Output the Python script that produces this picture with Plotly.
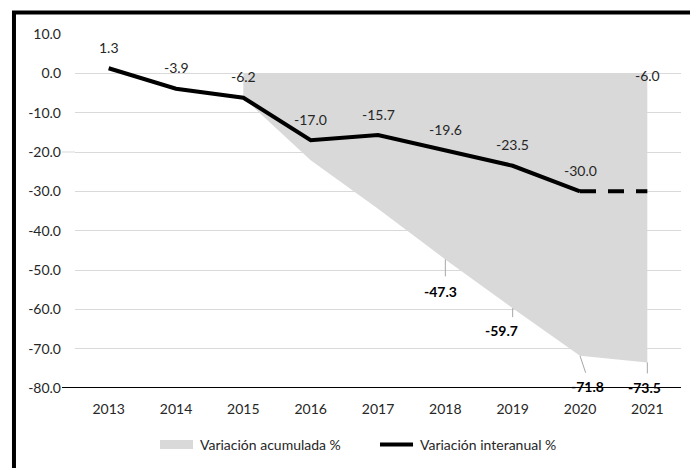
import plotly.graph_objects as go

# Years on the horizontal axis
years = ["2013", "2014", "2015", "2016", "2017", "2018", "2019", "2020", "2021"]

# Year-on-year change (%) for each year
interanual = [1.3, -3.9, -6.2, -17.0, -15.7, -19.6, -23.5, -30.0, -6.0]

# Solid line covers 2013-2020; the 2020-2021 stretch is drawn dashed
solid_years = years[:8]
dashed_years = ["2020", "2021"]
dashed_values = [-30.0, -30.0]

# Cumulative change (%) since 2014, drawn as a shaded area from 0
acum_years = ["2015", "2016", "2017", "2018", "2019", "2020", "2021"]
acumulada = [-6.2, -22.1, -34.4, -47.3, -59.7, -71.8, -73.5]
acum_base = [0, 0, 0, 0, 0, 0, 0]

# Which cumulative values carry a bold label, and where the label sits (px)
acum_labeled = ["2018", "2019", "2020", "2021"]
acum_label_shift = {"2018": (-5, -32), "2019": (-11, -22), "2020": (7, -31), "2021": (-3, -25)}
acum_leader = {"2018": (0, 18), "2019": (0, 10), "2020": (6, 18), "2021": (0, 12)}

# Y axis ticks
y_ticks = [10, 0, -10, -20, -30, -40, -50, -60, -70, -80]
y_tick_labels = ["10.0", "0.0", "-10.0", "-20.0", "-30.0", "-40.0", "-50.0", "-60.0", "-70.0", "-80.0"]

FONT = "Lato"
GRID = "#d9d9d9"
AREA = "#d9d9d9"
TEXT = "#262626"


def cat_pos(year):
    """Position of a year on the category axis."""
    return years.index(year)


fig = go.Figure()

fig.add_trace(go.Scatter(
    x=acum_years, y=acum_base, mode="lines",
    line=dict(width=0, color=AREA), showlegend=False, hoverinfo="skip",
))
fig.add_trace(go.Scatter(
    x=acum_years, y=acumulada, mode="lines", fill="tonexty",
    fillcolor=AREA, line=dict(width=0, color=AREA),
    name="Variación acumulada %", showlegend=False,
))
fig.add_trace(go.Scatter(
    x=solid_years, y=interanual[:8], mode="lines",
    line=dict(color="black", width=4),
    name="Variación interanual %", showlegend=False,
))
fig.add_trace(go.Scatter(
    x=dashed_years, y=dashed_values, mode="lines",
    line=dict(color="black", width=4, dash="16px,12px"),
    showlegend=False, hoverinfo="skip",
))

annotations = []
# Year-on-year labels above each point
for yr, v in zip(years, interanual):
    annotations.append(dict(
        x=cat_pos(yr), y=v, xref="x", yref="y", text=f"{v:.1f}",
        showarrow=False, yshift=21,
        font=dict(family=FONT, size=14, color=TEXT),
    ))

# Cumulative labels below the area edge, with thin leader lines
for yr, v in zip(acum_years, acumulada):
    if yr not in acum_labeled:
        continue
    dx, dy = acum_label_shift[yr]
    lx, ly = acum_leader[yr]
    annotations.append(dict(
        x=cat_pos(yr), y=v, xref="x", yref="y", text=" ", showarrow=True,
        ax=lx, ay=ly, arrowhead=0, arrowwidth=1, arrowcolor="#a6a6a6",
        standoff=0, font=dict(size=1), borderpad=0,
    ))
    annotations.append(dict(
        x=cat_pos(yr), y=v, xref="x", yref="y", text=f"<b>{v:.1f}</b>",
        showarrow=False, xshift=dx, yshift=dy,
        font=dict(family=FONT, size=14, color="black"),
    ))

# Legend entries
annotations.append(dict(
    xref="paper", yref="paper", x=0.203, y=-0.1596, xanchor="left", yanchor="middle",
    text="Variación acumulada %", showarrow=False,
    font=dict(family=FONT, size=14, color=TEXT),
))
annotations.append(dict(
    xref="paper", yref="paper", x=0.566, y=-0.1596, xanchor="left", yanchor="middle",
    text="Variación interanual %", showarrow=False,
    font=dict(family=FONT, size=14, color=TEXT),
))

shapes = [
    # horizontal axis line at the bottom of the value range
    dict(type="line", xref="paper", yref="y", x0=-0.0215, x1=1, y0=-80, y1=-80,
         line=dict(color="black", width=2)),
    dict(type="line", xref="paper", yref="y", x0=-0.0215, x1=0, y0=-20, y1=-20,
         line=dict(color=GRID, width=1)),
    # legend keys
    dict(type="rect", xref="paper", yref="paper", x0=0.1403, x1=0.1947,
         y0=-0.1723, y1=-0.1469, fillcolor=AREA, line=dict(width=0)),
    dict(type="line", xref="paper", yref="paper", x0=0.5033, x1=0.5578,
         y0=-0.1596, y1=-0.1596, line=dict(color="black", width=4)),
    # outer frame
    dict(type="rect", xref="paper", yref="paper", x0=-0.1007, x1=1.05,
         y0=-0.3, y1=1.0607, line=dict(color="black", width=4), fillcolor="rgba(0,0,0,0)"),
]

fig.update_layout(
    width=690, height=468,
    margin=dict(l=75, r=9, t=34, b=80),
    paper_bgcolor="white", plot_bgcolor="white",
    font=dict(family=FONT, size=14, color=TEXT),
    annotations=annotations, shapes=shapes,
    showlegend=False,
)
fig.update_xaxes(
    type="category", categoryorder="array", categoryarray=years,
    range=[-0.5, 8.5], showgrid=False, zeroline=False, showline=False,
    ticks="", ticklabelstandoff=11,
    tickfont=dict(family=FONT, size=14, color=TEXT),
)
fig.update_yaxes(
    range=[-80, 10], tickvals=y_ticks, ticktext=y_tick_labels,
    showgrid=True, gridcolor=GRID, gridwidth=1, zeroline=False, showline=False,
    ticks="", ticklabelstandoff=13,
    tickfont=dict(family=FONT, size=14, color=TEXT),
)

fig.write_html("out.html")
